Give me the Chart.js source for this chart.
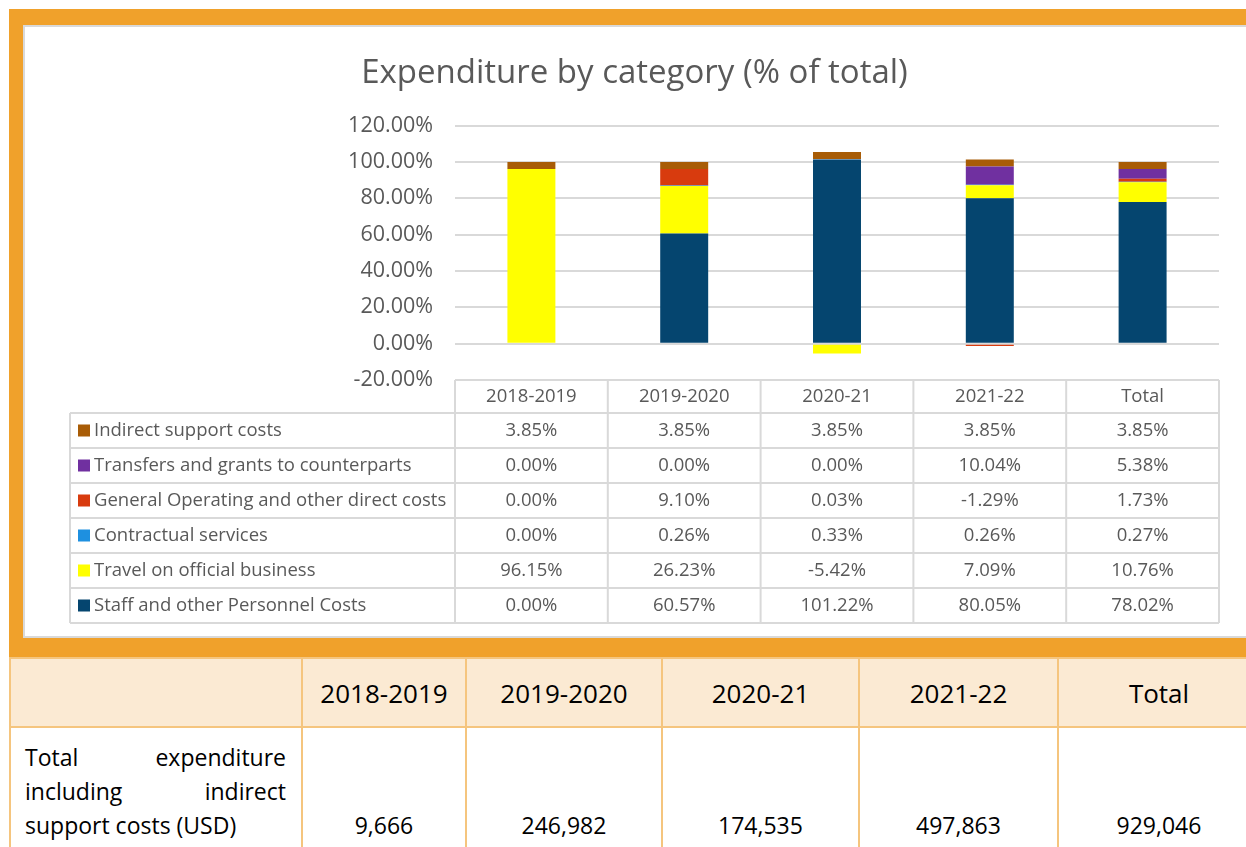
<!DOCTYPE html>
<html>
<head>
<meta charset="utf-8">
<title>Expenditure by category</title>
<script src="https://cdn.jsdelivr.net/npm/chart.js@4.4.1/dist/chart.umd.min.js"></script>
<style>
  body { margin: 0; width: 1246px; height: 847px; overflow: hidden; position: relative; background: #fff; font-family: "Open Sans", sans-serif; }
  #frame { position: absolute; left: 9px; top: 9px; width: 1250px; height: 648px; background: #F0A12B; }
  #panel { position: absolute; left: 23px; top: 25px; width: 1240px; height: 609px; background: #fff; border: 2px solid #d9d9d9; border-right: none; }
  #chart { position: absolute; left: 23px; top: 25px; }
  #totals { position: absolute; left: 9px; top: 657px; width: 1250px; table-layout: fixed; border-collapse: collapse; color: #000; }
  #totals td { border: 2px solid #F5C57E; padding: 0; text-align: center; }
  #totals tr.head td { background: #FBEAD3; height: 67px; font-size: 26px; }
  #totals tr.body td { vertical-align: bottom; font-size: 23px; line-height: 34px; padding-bottom: 6px; }
  #totals td.label { text-align: justify; padding: 12px 15px 6px 14px; }
</style>
</head>
<body>
<div id="frame"></div>
<div id="panel"></div>
<canvas id="chart" width="1223" height="611"></canvas>

<table id="totals">
  <colgroup>
    <col style="width:292px"><col style="width:164px"><col style="width:196px">
    <col style="width:197px"><col style="width:199px"><col style="width:202px">
  </colgroup>
  <tr class="head">
    <td></td>
    <td>2018-2019</td>
    <td>2019-2020</td>
    <td>2020-21</td>
    <td>2021-22</td>
    <td>Total</td>
  </tr>
  <tr class="body">
    <td class="label">Total expenditure including indirect support costs (USD)</td>
    <td>9,666</td>
    <td>246,982</td>
    <td>174,535</td>
    <td>497,863</td>
    <td>929,046</td>
  </tr>
</table>

<script>
const categories = ['2018-2019', '2019-2020', '2020-21', '2021-22', 'Total'];

// stacked bottom to top, values in % of total
const staffCosts    = [0.00, 60.57, 101.22, 80.05, 78.02];
const travel        = [96.15, 26.23, -5.42, 7.09, 10.76];
const contractual   = [0.00, 0.26, 0.33, 0.26, 0.27];
const generalOps    = [0.00, 9.10, 0.03, -1.29, 1.73];
const transfers     = [0.00, 0.00, 0.00, 10.04, 5.38];
const indirectCosts = [3.85, 3.85, 3.85, 3.85, 3.85];

const series = [
  { label: 'Staff and other Personnel Costs', data: staffCosts, color: '#05456F' },
  { label: 'Travel on official business', data: travel, color: '#FFFF00' },
  { label: 'Contractual services', data: contractual, color: '#1E90E0' },
  { label: 'General Operating and other direct costs', data: generalOps, color: '#D83B0E' },
  { label: 'Transfers and grants to counterparts', data: transfers, color: '#7030A0' },
  { label: 'Indirect support costs', data: indirectCosts, color: '#A85C06' }
];

const textColor = '#595959';
const lineColor = '#d9d9d9';

// Excel-style data table under the plot, columns taken from the x scale
const dataTable = {
  id: 'dataTable',
  afterDraw(chart) {
    const { ctx, chartArea: a, scales: { x } } = chart;
    const colW = (a.right - a.left) / categories.length;
    const headH = 33, rowH = 35;
    const labelLeft = 47;
    const top = a.bottom;
    const rows = series.slice().reverse();
    const bottom = top + headH + rows.length * rowH;

    ctx.save();
    ctx.strokeStyle = lineColor;
    ctx.lineWidth = 2;
    ctx.beginPath();
    ctx.moveTo(a.left, top); ctx.lineTo(a.right, top);
    for (let r = 0; r <= rows.length; r++) {
      const y = top + headH + r * rowH;
      ctx.moveTo(labelLeft, y); ctx.lineTo(a.right, y);
    }
    for (let i = 0; i <= categories.length; i++) {
      const xx = a.left + i * colW;
      ctx.moveTo(xx, top); ctx.lineTo(xx, bottom);
    }
    ctx.moveTo(labelLeft, top + headH); ctx.lineTo(labelLeft, bottom);
    ctx.stroke();

    ctx.font = '18.5px "Open Sans"';
    ctx.fillStyle = textColor;
    ctx.textBaseline = 'middle';
    ctx.textAlign = 'center';
    categories.forEach((c, i) => ctx.fillText(c, x.getPixelForValue(i), top + headH / 2));

    rows.forEach((s, r) => {
      const cy = top + headH + r * rowH + rowH / 2;
      ctx.fillStyle = s.color;
      ctx.fillRect(55, cy - 6, 12, 12);
      ctx.fillStyle = textColor;
      ctx.textAlign = 'left';
      ctx.fillText(s.label, 71, cy);
      ctx.textAlign = 'center';
      s.data.forEach((v, i) => ctx.fillText(v.toFixed(2) + '%', x.getPixelForValue(i), cy));
    });
    ctx.restore();
  }
};

new Chart(document.getElementById('chart'), {
  type: 'bar',
  data: {
    labels: categories,
    datasets: series.map(s => ({
      label: s.label,
      data: s.data,
      backgroundColor: s.color,
      borderWidth: 0,
      barPercentage: 0.314,
      categoryPercentage: 1
    }))
  },
  options: {
    responsive: false,
    animation: false,
    layout: { padding: { left: 0, right: 0, top: 0, bottom: 256 } },
    plugins: {
      legend: { display: false },
      tooltip: { enabled: false },
      title: {
        display: true,
        text: 'Expenditure by category (% of total)',
        color: textColor,
        font: { family: 'Open Sans', size: 33, weight: 'normal' },
        padding: { top: 29, bottom: 32 }
      }
    },
    scales: {
      x: { stacked: true, display: false },
      y: {
        stacked: true,
        min: -20,
        max: 120,
        afterFit(scale) { scale.width = 432; },
        ticks: {
          stepSize: 20,
          padding: 22,
          color: textColor,
          font: { family: 'Open Sans', size: 21.5 },
          callback: v => v.toFixed(2) + '%'
        },
        grid: { color: lineColor, lineWidth: 2, drawTicks: false },
        border: { display: false }
      },
      // empty right-hand margin so the title stays centred on the whole panel
      yRight: {
        position: 'right',
        min: -20,
        max: 120,
        afterFit(scale) { scale.width = 27; },
        ticks: { display: false },
        grid: { display: false },
        border: { display: false }
      }
    }
  },
  plugins: [dataTable]
});
</script>
</body>
</html>
